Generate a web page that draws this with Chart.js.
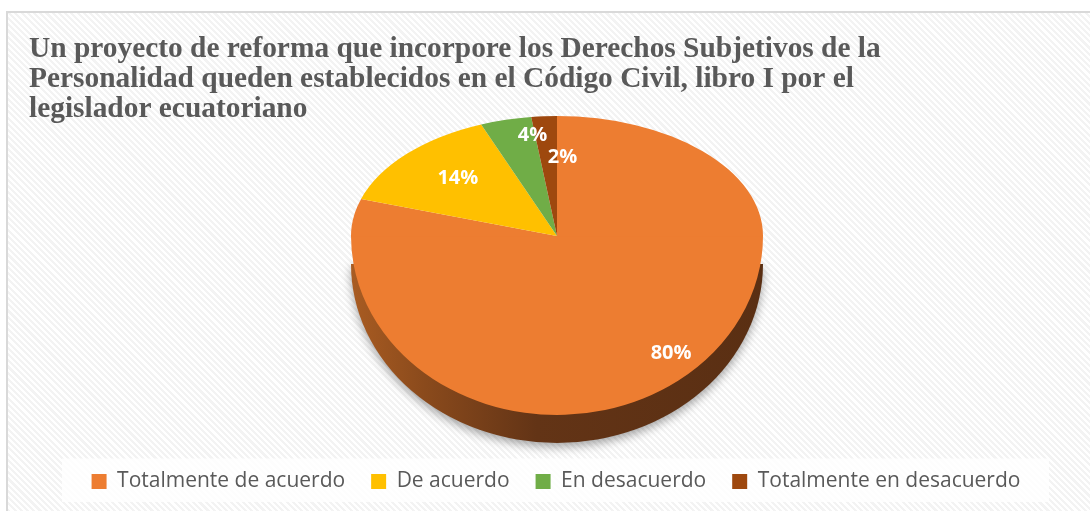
<!DOCTYPE html>
<html>
<head>
<meta charset="utf-8">
<script src="https://cdn.jsdelivr.net/npm/chart.js@4.4.1/dist/chart.umd.min.js"></script>
<style>
  html, body { margin: 0; padding: 0; width: 1090px; height: 511px; overflow: hidden; background: #fff; }
  #frame {
    position: absolute; left: 6px; top: 11px; width: 1100px; height: 520px;
    border-left: 2px solid #d9d9d9; border-top: 2px solid #d9d9d9;
    background: repeating-linear-gradient(45deg, #ffffff 0 2.2px, #f3f3f3 2.2px 4.4px);
  }
  #wrap { position: absolute; left: 0; top: 0; width: 1090px; height: 502px; }
</style>
</head>
<body>
<div id="frame"></div>
<div id="wrap"><canvas id="chart"></canvas></div>
<script>
const titleLines = [
  'Un proyecto de reforma que incorpore los Derechos Subjetivos de la',
  'Personalidad queden establecidos en el Código Civil, libro I por el',
  'legislador ecuatoriano'
];
const categories = ['Totalmente de acuerdo', 'De acuerdo', 'En desacuerdo', 'Totalmente en desacuerdo'];
const percentages = [80, 14, 4, 2];
const sliceColors = ['#ED7D31', '#FFC000', '#70AD47', '#9E480E'];

// tilted pie with a visible side, drawn from the library's arc elements
const tiltedPie = {
  id: 'tiltedPie',
  beforeDraw(chart, args, o) {
    const ctx = chart.ctx;
    const boxes = chart.legend.legendHitBoxes;
    if (!boxes || !boxes.length) return;
    const first = boxes[0];
    const midY = first.top + first.height / 2;
    ctx.save();
    ctx.fillStyle = 'rgba(255,255,255,0.82)';
    ctx.fillRect(62, midY - 23, 987, 46);
    ctx.restore();
  },
  beforeDatasetsDraw(chart, args, o) {
    const ctx = chart.ctx;
    const meta = chart.getDatasetMeta(0);
    const arcs = meta.data;
    const cx = arcs[0].x, cy = arcs[0].y, R = arcs[0].outerRadius;
    const dpr = chart.currentDevicePixelRatio;
    const s = o.r / R;
    const kUp = o.up / o.r, kDown = o.down / o.r;
    const setT = (k) => ctx.setTransform(dpr * s, 0, 0, dpr * s * k, dpr * (o.x - s * cx), dpr * (o.y - s * k * cy));

    // side of the pie (front, only the first slice shows there)
    ctx.save();
    ctx.setTransform(dpr, 0, 0, dpr, 0, 0);
    const g = ctx.createLinearGradient(o.x - o.r, 0, o.x + o.r, 0);
    g.addColorStop(0, '#a95c22');
    g.addColorStop(0.18, '#8a4a1c');
    g.addColorStop(0.45, '#633416');
    g.addColorStop(1, '#5a2f13');
    ctx.fillStyle = g;
    ctx.shadowColor = 'rgba(0,0,0,0.35)';
    ctx.shadowBlur = 10;
    ctx.shadowOffsetY = 4;
    ctx.beginPath();
    ctx.ellipse(o.x, o.y + o.depth, o.r, o.down, 0, 0, Math.PI);
    ctx.closePath();
    ctx.fill();
    ctx.restore();

    // top face: lower half
    ctx.save();
    ctx.setTransform(dpr, 0, 0, dpr, 0, 0);
    ctx.beginPath();
    ctx.rect(0, o.y, chart.width, chart.height);
    ctx.clip();
    setT(kDown);
    arcs.forEach(a => a.draw(ctx));
    ctx.restore();

    // top face: upper half
    ctx.save();
    ctx.setTransform(dpr, 0, 0, dpr, 0, 0);
    ctx.beginPath();
    ctx.rect(0, 0, chart.width, o.y + 0.5);
    ctx.clip();
    setT(kUp);
    arcs.forEach(a => a.draw(ctx));
    ctx.restore();

    // data labels
    ctx.save();
    ctx.setTransform(dpr, 0, 0, dpr, 0, 0);
    ctx.fillStyle = '#ffffff';
    ctx.font = 'bold 20px "Open Sans"';
    ctx.textAlign = 'center';
    ctx.textBaseline = 'middle';
    arcs.forEach((a, i) => {
      const mid = (a.startAngle + a.endAngle) / 2;
      const f = o.labelRadius[i];
      const ux = Math.cos(mid) * o.r * f;
      const uy = Math.sin(mid) * o.r * f;
      const k = uy < 0 ? kUp : kDown;
      const px = o.x + ux + o.labelNudge[i];
      const py = o.y + uy * k;
      ctx.fillText(percentages[i] + '%', px, py);
    });
    ctx.restore();
    return false;
  }
};

new Chart(document.getElementById('chart'), {
  type: 'pie',
  data: {
    labels: categories,
    datasets: [{
      data: percentages,
      backgroundColor: sliceColors,
      borderWidth: 0
    }]
  },
  plugins: [tiltedPie],
  options: {
    responsive: true,
    maintainAspectRatio: false,
    animation: false,
    layout: { padding: { left: 29, right: 7, top: 0, bottom: 0 } },
    plugins: {
      tooltip: { enabled: false },
      title: {
        display: true,
        text: titleLines,
        align: 'start',
        color: '#595959',
        font: { family: '"Liberation Serif"', weight: 'bold', size: 29.4, lineHeight: 1.02 },
        padding: { top: 34, bottom: 10 }
      },
      legend: {
        position: 'bottom',
        labels: {
          boxWidth: 15,
          boxHeight: 15,
          padding: 26,
          color: '#595959',
          font: { family: '"Open Sans"', size: 21 }
        }
      },
      tiltedPie: {
        x: 557, y: 236, r: 206, up: 120, down: 179, depth: 28,
        labelRadius: [0.81, 0.70, 0.87, 0.66],
        labelNudge: [16, 6, 20, 14]
      }
    }
  }
});
</script>
</body>
</html>
